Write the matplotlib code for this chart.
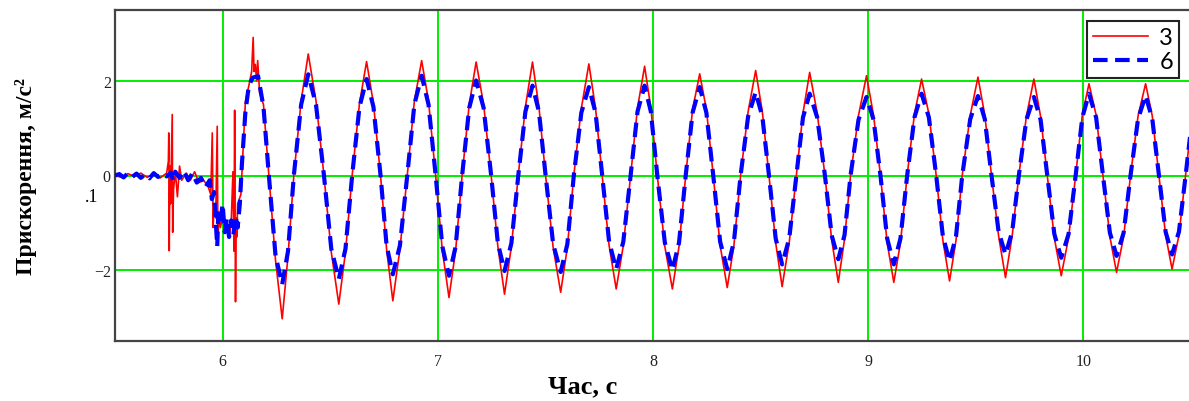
import matplotlib.pyplot as plt

# --- data ---
# noisy start of the record (before the steady oscillation)
t_blue_start = [5.50, 5.52, 5.54, 5.56, 5.58, 5.60, 5.62, 5.64, 5.66, 5.68, 5.70, 5.72,
                5.74, 5.76, 5.77, 5.78, 5.80, 5.82, 5.84, 5.86, 5.88, 5.90, 5.92, 5.94,
                5.95, 5.96, 5.97, 5.975, 5.98, 5.99, 6.00, 6.01, 6.02, 6.03, 6.04, 6.05,
                6.06, 6.07, 6.08, 6.09, 6.106, 6.122, 6.14, 6.165]
a_blue_start = [0.00, 0.03, -0.04, 0.05, -0.03, 0.04, -0.05, 0.02, -0.06, 0.05, -0.03, 0.04,
                -0.02, 0.06, -0.12, 0.08, -0.05, 0.10, -0.10, 0.05, -0.15, -0.05, -0.25, -0.10,
                -0.50, -0.35, -1.10, -1.50, -0.80, -1.00, -0.60, -1.20, -0.90, -1.30, -0.95, -1.25,
                -0.85, -1.10, -0.60, 0.26, 1.35, 1.90, 2.07, 2.10]

t_red_start = [5.50, 5.53, 5.56, 5.59, 5.62, 5.65, 5.68, 5.71, 5.74, 5.748, 5.750, 5.752,
               5.755, 5.758, 5.762, 5.766, 5.768, 5.772, 5.78, 5.79, 5.80, 5.81, 5.83, 5.85,
               5.87, 5.89, 5.91, 5.93, 5.945, 5.952, 5.956, 5.96, 5.968, 5.975, 5.978, 5.985,
               5.99, 6.00, 6.01, 6.02, 6.03, 6.04, 6.048, 6.053, 6.056, 6.06, 6.063, 6.066,
               6.07, 6.085, 6.106, 6.122, 6.135, 6.142, 6.146, 6.152, 6.158, 6.163, 6.172]
a_red_start = [0.00, -0.04, 0.04, -0.02, 0.05, -0.04, 0.03, -0.05, 0.05, 0.30, 0.90, -1.59,
               0.20, -0.60, 0.30, 1.29, -1.20, -0.30, 0.10, -0.45, 0.20, -0.10, 0.05, -0.10,
               0.08, -0.15, -0.10, -0.20, -0.40, 0.90, -1.10, -0.60, -0.90, 1.04, -1.30, -0.80,
               -1.10, -0.85, -1.20, -0.95, -1.30, -1.00, 0.08, -1.60, 1.38, -2.67, -0.90, -1.30,
               -0.60, -0.40, 1.56, 1.90, 2.20, 2.92, 2.20, 2.35, 2.00, 2.43, 1.75]

# steady oscillation, shared time points for both sensors
t_wave = [6.190, 6.215, 6.246, 6.277, 6.304, 6.331, 6.365, 6.398, 6.434, 6.471, 6.505, 6.540,
          6.571, 6.602, 6.636, 6.669, 6.701, 6.734, 6.762, 6.791, 6.824, 6.858, 6.891, 6.925,
          6.957, 6.990, 7.021, 7.052, 7.083, 7.113, 7.146, 7.178, 7.213, 7.248, 7.279, 7.310,
          7.342, 7.374, 7.407, 7.440, 7.470, 7.501, 7.536, 7.571, 7.602, 7.632, 7.667, 7.702,
          7.733, 7.764, 7.796, 7.829, 7.862, 7.896, 7.928, 7.961, 7.990, 8.020, 8.055, 8.090,
          8.121, 8.152, 8.184, 8.217, 8.248, 8.280, 8.312, 8.345, 8.376, 8.407, 8.442, 8.477,
          8.508, 8.539, 8.570, 8.600, 8.633, 8.666, 8.697, 8.728, 8.763, 8.799, 8.830, 8.861,
          8.890, 8.918, 8.955, 8.992, 9.025, 9.057, 9.088, 9.119, 9.150, 9.181, 9.215, 9.248,
          9.282, 9.316, 9.347, 9.378, 9.408, 9.437, 9.474, 9.510, 9.542, 9.573, 9.606, 9.638,
          9.669, 9.700, 9.735, 9.770, 9.801, 9.832, 9.865, 9.897, 9.931, 9.964, 9.995, 10.026,
          10.059, 10.091, 10.123, 10.154, 10.187, 10.219, 10.254, 10.289, 10.320, 10.351, 10.382, 10.412,
          10.444, 10.475, 10.505]
blue_wave = [1.45, 0.00, -1.70, -2.30, -1.60, 0.00, 1.50, 2.14, 1.50, 0.00, -1.55, -2.19,
             -1.55, 0.00, 1.45, 2.04, 1.45, 0.00, -1.48, -2.09, -1.48, 0.00, 1.50, 2.11,
             1.50, 0.00, -1.50, -2.12, -1.50, 0.00, 1.43, 2.01, 1.43, 0.00, -1.43, -2.02,
             -1.43, 0.00, 1.35, 1.90, 1.35, 0.00, -1.45, -2.04, -1.45, 0.00, 1.33, 1.87,
             1.33, 0.00, -1.40, -1.98, -1.40, 0.00, 1.35, 1.90, 1.35, 0.00, -1.42, -2.00,
             -1.42, 0.00, 1.33, 1.87, 1.33, 0.00, -1.40, -1.98, -1.40, 0.00, 1.25, 1.76,
             1.25, 0.00, -1.33, -1.88, -1.33, 0.00, 1.23, 1.73, 1.23, 0.00, -1.26, -1.77,
             -1.26, 0.00, 1.18, 1.66, 1.18, 0.00, -1.33, -1.88, -1.33, 0.00, 1.23, 1.73,
             1.23, 0.00, -1.29, -1.81, -1.29, 0.00, 1.19, 1.68, 1.19, 0.00, -1.19, -1.67,
             -1.19, 0.00, 1.18, 1.66, 1.18, 0.00, -1.24, -1.74, -1.24, 0.00, 1.23, 1.73,
             1.23, 0.00, -1.21, -1.70, -1.21, 0.00, 1.20, 1.69, 1.20, 0.00, -1.19, -1.67,
             -1.19, 0.00, 1.20]
red_wave = [1.50, 0.00, -1.80, -3.03, -1.70, 0.00, 1.58, 2.57, 1.58, 0.00, -1.62, -2.72,
            -1.62, 0.00, 1.52, 2.41, 1.52, 0.00, -1.56, -2.65, -1.56, 0.00, 1.57, 2.43,
            1.57, 0.00, -1.58, -2.58, -1.58, 0.00, 1.50, 2.40, 1.50, 0.00, -1.50, -2.51,
            -1.50, 0.00, 1.45, 2.40, 1.45, 0.00, -1.52, -2.47, -1.52, 0.00, 1.42, 2.36,
            1.42, 0.00, -1.48, -2.40, -1.48, 0.00, 1.43, 2.31, 1.43, 0.00, -1.50, -2.40,
            -1.50, 0.00, 1.40, 2.15, 1.40, 0.00, -1.48, -2.37, -1.48, 0.00, 1.35, 2.22,
            1.35, 0.00, -1.42, -2.35, -1.42, 0.00, 1.32, 2.18, 1.32, 0.00, -1.35, -2.26,
            -1.35, 0.00, 1.27, 2.11, 1.27, 0.00, -1.42, -2.26, -1.42, 0.00, 1.30, 2.04,
            1.30, 0.00, -1.37, -2.23, -1.37, 0.00, 1.27, 2.08, 1.27, 0.00, -1.28, -2.16,
            -1.28, 0.00, 1.25, 2.04, 1.25, 0.00, -1.32, -2.12, -1.32, 0.00, 1.28, 1.94,
            1.28, 0.00, -1.29, -2.05, -1.29, 0.00, 1.26, 1.94, 1.26, 0.00, -1.26, -1.98,
            -1.26, 0.00, 1.25]

series_labels = ["3", "6"]
x_ticks = [6, 7, 8, 9, 10]
y_ticks = [-2, 0, 2]

t_red = t_red_start + t_wave
a_red = a_red_start + red_wave
t_blue = t_blue_start + t_wave
a_blue = a_blue_start + blue_wave

serif = "Liberation Serif"

fig = plt.figure(figsize=(11.89, 4.02), dpi=100)
ax = fig.add_axes([115 / 1189, 1 - 342 / 402, 1076 / 1189, 331 / 402])

ax.plot(t_red, a_red, color="#ff0000", lw=1.2, label=series_labels[0], zorder=3)
ax.plot(t_blue, a_blue, color="#0000ff", lw=3.0, dashes=(3.5, 1.8),
        label=series_labels[1], zorder=4)

ax.set_xlim(5.5, 10.5)
ax.set_ylim(-3.5, 3.5)
ax.set_xticks(x_ticks)
ax.set_yticks(y_ticks)
ax.grid(True, color="#00ee00", lw=1.4)
ax.set_axisbelow(True)
ax.tick_params(length=0, labelsize=11.5, labelcolor="#222222", pad=9)
ax.tick_params(axis="y", pad=3)
for lab in ax.get_xticklabels() + ax.get_yticklabels():
    lab.set_fontfamily(serif)

for side in ["left", "top", "bottom"]:
    ax.spines[side].set_color("#444444")
    ax.spines[side].set_linewidth(1.6)
ax.spines["right"].set_visible(False)

ax.set_xlabel("Час, с", fontfamily=serif, fontweight="bold", fontsize=19)
ax.xaxis.set_label_coords(0.435, -0.1)
ax.set_ylabel("Прискорення, м/с²", fontfamily=serif, fontweight="bold", fontsize=17,
              va="center")
ax.yaxis.set_label_coords(-0.083, 0.5)

fig.text(85 / 1189, 1 - 202 / 402, ".1", fontfamily=serif, fontsize=13, va="baseline")

leg = ax.legend(loc="upper right", bbox_to_anchor=(0.989, 0.967), borderaxespad=0,
                fancybox=False, framealpha=1, edgecolor="#222222",
                prop={"family": "Lato", "size": 17}, handlelength=2.3,
                handletextpad=0.5, borderpad=0.25, labelspacing=0.15)
leg.get_frame().set_linewidth(1.5)
leg.set_zorder(10)

fig.savefig("out.png", dpi=100)
